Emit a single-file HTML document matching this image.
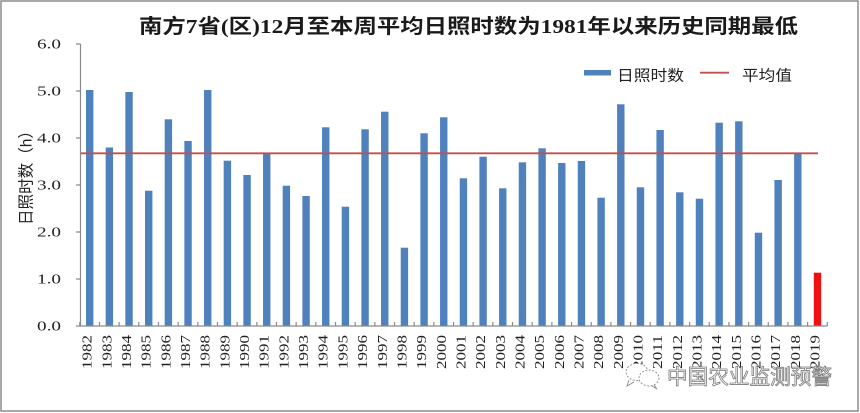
<!DOCTYPE html>
<html>
<head>
<meta charset="utf-8">
<style>
  html,body{margin:0;padding:0;background:#fff;}
  svg{display:block;}
</style>
</head>
<body>
<svg width="860" height="413" viewBox="0 0 860 413" xmlns="http://www.w3.org/2000/svg">
  <rect x="0" y="0" width="860" height="413" fill="#fff"/>
  <rect x="1" y="1" width="857" height="410" fill="none" stroke="#8c8c8c" stroke-width="1.5"/>

  <!-- title -->
  <text x="139" y="33" font-size="20" font-weight="bold" fill="#1a1a1a" textLength="659" lengthAdjust="spacingAndGlyphs" font-family="'Liberation Serif','Noto Sans CJK SC',serif">南方7省(区)12月至本周平均日照时数为1981年以来历史同期最低</text>

  <!-- legend -->
  <rect x="584" y="70" width="27" height="5.5" fill="#4f81bd"/>
  <text x="617" y="80.5" font-size="15" fill="#222" textLength="67" lengthAdjust="spacingAndGlyphs" font-family="'Liberation Sans','Noto Sans CJK SC',sans-serif">日照时数</text>
  <line x1="700" y1="72.7" x2="729" y2="72.7" stroke="#c0504d" stroke-width="1.8"/>
  <text x="742" y="80.5" font-size="15" fill="#222" textLength="50" lengthAdjust="spacingAndGlyphs" font-family="'Liberation Sans','Noto Sans CJK SC',sans-serif">平均值</text>

  <!-- y axis label -->
  <text transform="translate(27,174) rotate(-90)" text-anchor="middle" dominant-baseline="central" font-size="16" fill="#222" textLength="102" lengthAdjust="spacingAndGlyphs" font-family="'Liberation Sans','Noto Sans CJK SC',sans-serif">日照时数（h）</text>

  <!-- y tick labels -->
  <g font-family="'Liberation Serif',serif" font-size="14" fill="#222" text-anchor="end">
    <text x="61" y="48.6" textLength="24" lengthAdjust="spacingAndGlyphs">6.0</text>
    <text x="61" y="95.6" textLength="24" lengthAdjust="spacingAndGlyphs">5.0</text>
    <text x="61" y="142.6" textLength="24" lengthAdjust="spacingAndGlyphs">4.0</text>
    <text x="61" y="189.6" textLength="24" lengthAdjust="spacingAndGlyphs">3.0</text>
    <text x="61" y="236.6" textLength="24" lengthAdjust="spacingAndGlyphs">2.0</text>
    <text x="61" y="283.6" textLength="24" lengthAdjust="spacingAndGlyphs">1.0</text>
    <text x="61" y="330.6" textLength="24" lengthAdjust="spacingAndGlyphs">0.0</text>
  </g>

  <!-- bars -->
  <g fill="#4f81bd">
    <rect x="86.0" y="90" width="7.4" height="236"/>
    <rect x="105.67" y="147.5" width="7.4" height="178.5"/>
    <rect x="125.34" y="92" width="7.4" height="234"/>
    <rect x="145.01" y="190.7" width="7.4" height="135.3"/>
    <rect x="164.68" y="119.3" width="7.4" height="206.7"/>
    <rect x="184.35" y="141" width="7.4" height="185"/>
    <rect x="204.02" y="90" width="7.4" height="236"/>
    <rect x="223.69" y="160.7" width="7.4" height="165.3"/>
    <rect x="243.36" y="175" width="7.4" height="151"/>
    <rect x="263.03" y="152.7" width="7.4" height="173.3"/>
    <rect x="282.7" y="185.7" width="7.4" height="140.3"/>
    <rect x="302.37" y="196" width="7.4" height="130"/>
    <rect x="322.04" y="127.3" width="7.4" height="198.7"/>
    <rect x="341.71" y="206.7" width="7.4" height="119.3"/>
    <rect x="361.38" y="129.3" width="7.4" height="196.7"/>
    <rect x="381.05" y="111.7" width="7.4" height="214.3"/>
    <rect x="400.72" y="247.7" width="7.4" height="78.3"/>
    <rect x="420.39" y="133.3" width="7.4" height="192.7"/>
    <rect x="440.06" y="117.3" width="7.4" height="208.7"/>
    <rect x="459.73" y="178.3" width="7.4" height="147.7"/>
    <rect x="479.4" y="156.7" width="7.4" height="169.3"/>
    <rect x="499.07" y="188.3" width="7.4" height="137.7"/>
    <rect x="518.74" y="162.3" width="7.4" height="163.7"/>
    <rect x="538.41" y="148.3" width="7.4" height="177.7"/>
    <rect x="558.08" y="163" width="7.4" height="163"/>
    <rect x="577.75" y="161" width="7.4" height="165"/>
    <rect x="597.42" y="197.7" width="7.4" height="128.3"/>
    <rect x="617.09" y="104.3" width="7.4" height="221.7"/>
    <rect x="636.76" y="187.3" width="7.4" height="138.7"/>
    <rect x="656.43" y="130" width="7.4" height="196"/>
    <rect x="676.1" y="192.3" width="7.4" height="133.7"/>
    <rect x="695.77" y="198.7" width="7.4" height="127.3"/>
    <rect x="715.44" y="122.7" width="7.4" height="203.3"/>
    <rect x="735.11" y="121.3" width="7.4" height="204.7"/>
    <rect x="754.78" y="232.7" width="7.4" height="93.3"/>
    <rect x="774.45" y="180" width="7.4" height="146"/>
    <rect x="794.12" y="153.3" width="7.4" height="172.7"/>
  </g>
  <rect x="813.79" y="272.7" width="7.4" height="53.3" fill="#ee1111"/>

  <!-- average line -->
  <line x1="80" y1="153.3" x2="818" y2="153.3" stroke="#c0504d" stroke-width="1.8"/>

  <!-- axes -->
  <g stroke="#8a8a8a" stroke-width="1.2" fill="none">
    <line x1="80.5" y1="44" x2="80.5" y2="326"/>
    <line x1="80" y1="326" x2="827.5" y2="326"/>
    <path d="M76 44H80.5M76 91H80.5M76 138H80.5M76 185H80.5M76 232H80.5M76 279H80.5M76 326H80.5"/>
    <path d="M79.8 322V326M99.47 322V326M119.14 322V326M138.81 322V326M158.48 322V326M178.15 322V326M197.82 322V326M217.49 322V326M237.16 322V326M256.83 322V326M276.5 322V326M296.17 322V326M315.84 322V326M335.51 322V326M355.18 322V326M374.85 322V326M394.52 322V326M414.19 322V326M433.86 322V326M453.53 322V326M473.2 322V326M492.87 322V326M512.54 322V326M532.21 322V326M551.88 322V326M571.55 322V326M591.22 322V326M610.89 322V326M630.56 322V326M650.23 322V326M669.9 322V326M689.57 322V326M709.24 322V326M728.91 322V326M748.58 322V326M768.25 322V326M787.92 322V326M807.59 322V326M827.26 322V326"/>
  </g>

  <!-- x labels -->
  <g font-family="'Liberation Serif',serif" font-size="14" fill="#222" text-anchor="end">
    <text transform="translate(91.7,335) rotate(-90)" textLength="34" lengthAdjust="spacingAndGlyphs">1982</text>
    <text transform="translate(111.37,335) rotate(-90)" textLength="34" lengthAdjust="spacingAndGlyphs">1983</text>
    <text transform="translate(131.04,335) rotate(-90)" textLength="34" lengthAdjust="spacingAndGlyphs">1984</text>
    <text transform="translate(150.71,335) rotate(-90)" textLength="34" lengthAdjust="spacingAndGlyphs">1985</text>
    <text transform="translate(170.38,335) rotate(-90)" textLength="34" lengthAdjust="spacingAndGlyphs">1986</text>
    <text transform="translate(190.05,335) rotate(-90)" textLength="34" lengthAdjust="spacingAndGlyphs">1987</text>
    <text transform="translate(209.72,335) rotate(-90)" textLength="34" lengthAdjust="spacingAndGlyphs">1988</text>
    <text transform="translate(229.39,335) rotate(-90)" textLength="34" lengthAdjust="spacingAndGlyphs">1989</text>
    <text transform="translate(249.06,335) rotate(-90)" textLength="34" lengthAdjust="spacingAndGlyphs">1990</text>
    <text transform="translate(268.73,335) rotate(-90)" textLength="34" lengthAdjust="spacingAndGlyphs">1991</text>
    <text transform="translate(288.4,335) rotate(-90)" textLength="34" lengthAdjust="spacingAndGlyphs">1992</text>
    <text transform="translate(308.07,335) rotate(-90)" textLength="34" lengthAdjust="spacingAndGlyphs">1993</text>
    <text transform="translate(327.74,335) rotate(-90)" textLength="34" lengthAdjust="spacingAndGlyphs">1994</text>
    <text transform="translate(347.41,335) rotate(-90)" textLength="34" lengthAdjust="spacingAndGlyphs">1995</text>
    <text transform="translate(367.08,335) rotate(-90)" textLength="34" lengthAdjust="spacingAndGlyphs">1996</text>
    <text transform="translate(386.75,335) rotate(-90)" textLength="34" lengthAdjust="spacingAndGlyphs">1997</text>
    <text transform="translate(406.42,335) rotate(-90)" textLength="34" lengthAdjust="spacingAndGlyphs">1998</text>
    <text transform="translate(426.09,335) rotate(-90)" textLength="34" lengthAdjust="spacingAndGlyphs">1999</text>
    <text transform="translate(445.76,335) rotate(-90)" textLength="34" lengthAdjust="spacingAndGlyphs">2000</text>
    <text transform="translate(465.43,335) rotate(-90)" textLength="34" lengthAdjust="spacingAndGlyphs">2001</text>
    <text transform="translate(485.1,335) rotate(-90)" textLength="34" lengthAdjust="spacingAndGlyphs">2002</text>
    <text transform="translate(504.77,335) rotate(-90)" textLength="34" lengthAdjust="spacingAndGlyphs">2003</text>
    <text transform="translate(524.44,335) rotate(-90)" textLength="34" lengthAdjust="spacingAndGlyphs">2004</text>
    <text transform="translate(544.11,335) rotate(-90)" textLength="34" lengthAdjust="spacingAndGlyphs">2005</text>
    <text transform="translate(563.78,335) rotate(-90)" textLength="34" lengthAdjust="spacingAndGlyphs">2006</text>
    <text transform="translate(583.45,335) rotate(-90)" textLength="34" lengthAdjust="spacingAndGlyphs">2007</text>
    <text transform="translate(603.12,335) rotate(-90)" textLength="34" lengthAdjust="spacingAndGlyphs">2008</text>
    <text transform="translate(622.79,335) rotate(-90)" textLength="34" lengthAdjust="spacingAndGlyphs">2009</text>
    <text transform="translate(642.46,335) rotate(-90)" textLength="34" lengthAdjust="spacingAndGlyphs">2010</text>
    <text transform="translate(662.13,335) rotate(-90)" textLength="34" lengthAdjust="spacingAndGlyphs">2011</text>
    <text transform="translate(681.8,335) rotate(-90)" textLength="34" lengthAdjust="spacingAndGlyphs">2012</text>
    <text transform="translate(701.47,335) rotate(-90)" textLength="34" lengthAdjust="spacingAndGlyphs">2013</text>
    <text transform="translate(721.14,335) rotate(-90)" textLength="34" lengthAdjust="spacingAndGlyphs">2014</text>
    <text transform="translate(740.81,335) rotate(-90)" textLength="34" lengthAdjust="spacingAndGlyphs">2015</text>
    <text transform="translate(760.48,335) rotate(-90)" textLength="34" lengthAdjust="spacingAndGlyphs">2016</text>
    <text transform="translate(780.15,335) rotate(-90)" textLength="34" lengthAdjust="spacingAndGlyphs">2017</text>
    <text transform="translate(799.82,335) rotate(-90)" textLength="34" lengthAdjust="spacingAndGlyphs">2018</text>
    <text transform="translate(819.49,335) rotate(-90)" textLength="34" lengthAdjust="spacingAndGlyphs">2019</text>
  </g>

  <!-- watermark -->
  <g fill="#fff" stroke="#8a8a8a" stroke-width="0.9">
    <ellipse cx="637" cy="372" rx="11" ry="8.5" stroke-dasharray="2 1.5"/>
    <ellipse cx="649" cy="378" rx="10" ry="8" stroke-dasharray="2 1.5"/>
    <path d="M629 380 L627 386 L634 382" fill="none"/>
    <path d="M654 385 L657 389 L652 386" fill="none"/>
  </g>
  <text x="667" y="384" font-size="21" fill="#fff" stroke="#7a7a7a" stroke-width="0.8" textLength="165" lengthAdjust="spacingAndGlyphs" font-family="'Liberation Sans','Noto Sans CJK SC',sans-serif">中国农业监测预警</text>
</svg>
</body>
</html>
